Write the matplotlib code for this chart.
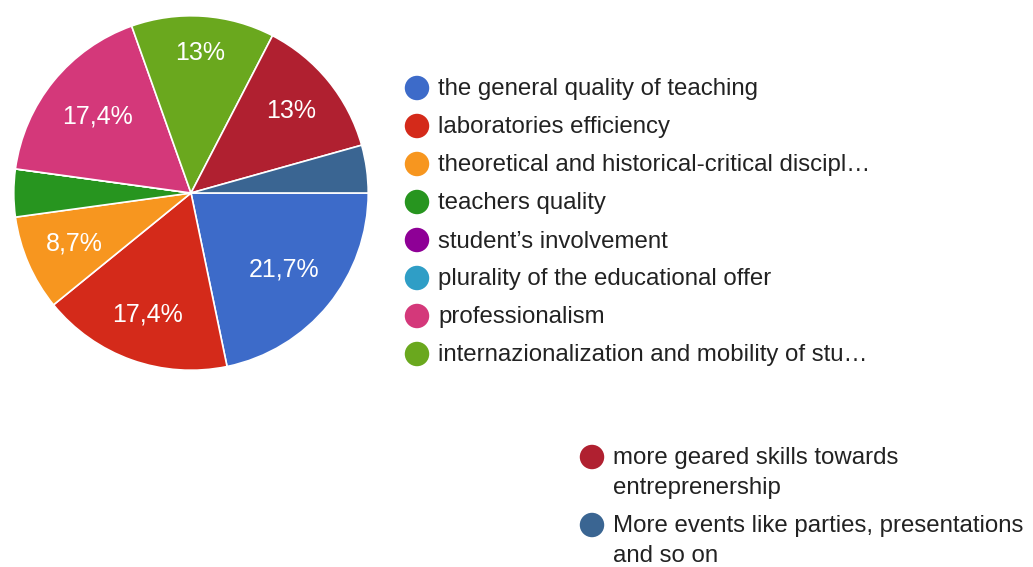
import numpy as np
import matplotlib
matplotlib.use("Agg")
import matplotlib.pyplot as plt

# answers (counts out of 23 respondents)
labels = ["the general quality of teaching", "laboratories efficiency",
          "theoretical and historical-critical discipl\u2026", "teachers quality",
          "student\u2019s involvement", "plurality of the educational offer",
          "professionalism", "internazionalization and mobility of stu\u2026",
          "more geared skills towards\nentreprenership",
          "More events like parties, presentations\nand so on"]
counts = [5, 4, 2, 1, 0, 0, 4, 3, 3, 1]
colors = ["#3d6bc9", "#d42a1a", "#f7961f", "#27951f", "#8e0096", "#2f9ec6",
          "#d4387a", "#6aa81e", "#b02030", "#3a6592"]
# radial position of each percentage label (fraction of radius)
label_dist = [0.68, 0.73, 0.72, 0.7, 0.7, 0.7, 0.68, 0.79, 0.73, 0.7]

plt.rcParams['font.family'] = ['Liberation Sans', 'DejaVu Sans']

W, H = 1033, 567
fig = plt.figure(figsize=(W / 100, H / 100), dpi=100)


def fmt_pct(p):
    if p < 5:
        return ""
    s = f"{p:.1f}".rstrip("0").rstrip(".")
    return s.replace(".", ",") + "%"


# pie occupies a square in pixel space: center (191,193), radius 179
cx, cy, r = 191, 193, 179
ax = fig.add_axes([(cx - r) / W, (H - cy - r) / H, 2 * r / W, 2 * r / H])
wedges, _, autotexts = ax.pie(counts, colors=colors, startangle=0, counterclock=False,
                              radius=1, autopct=fmt_pct, pctdistance=0.68,
                              wedgeprops=dict(edgecolor="white", linewidth=1.2),
                              textprops=dict(color="white", fontsize=18))
for w, t, d in zip(wedges, autotexts, label_dist):
    ang = np.deg2rad((w.theta1 + w.theta2) / 2)
    t.set_position((d * np.cos(ang), d * np.sin(ang)))
ax.set_xlim(-1.01, 1.01)
ax.set_ylim(-1.01, 1.01)
ax.set_aspect("equal")
ax.axis("off")

# legends drawn in a pixel-coordinate overlay
lg = fig.add_axes([0, 0, 1, 1])
lg.set_xlim(0, W)
lg.set_ylim(H, 0)
lg.axis("off")

txt = dict(fontsize=17.3, color="#222222", va="center", ha="left")

# first legend block
for i in range(8):
    y = 88 + 38 * i
    lg.scatter(417, y, s=310, color=colors[i], edgecolors="none")
    lg.text(438, y + 1.5, labels[i], **txt)

# second legend block (wrapped labels)
for j, y in zip([8, 9], [457, 525]):
    lg.scatter(592, y, s=310, color=colors[j], edgecolors="none")
    for k, line in enumerate(labels[j].split("\n")):
        lg.text(613, y + 1 + 30 * k, line, **txt)

fig.savefig("out.png", dpi=100, facecolor="white")
